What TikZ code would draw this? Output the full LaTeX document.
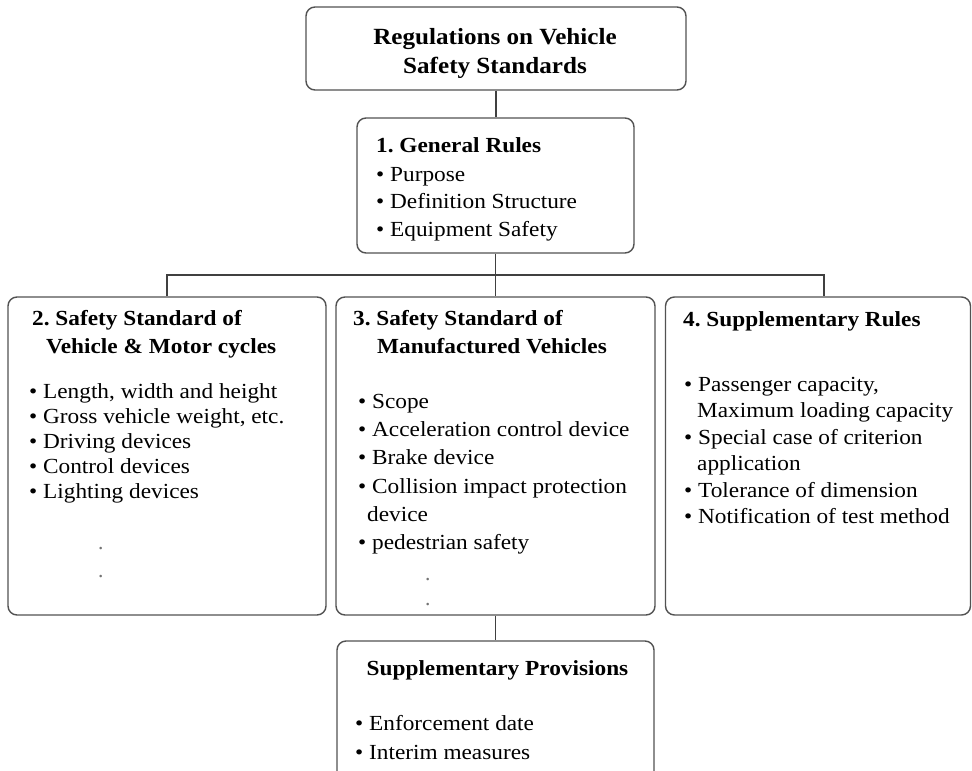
\documentclass[tikz,border=0pt]{standalone}
\usepackage{fontspec}
\setmainfont{Liberation Serif}
\newcommand\xs[1]{\scalebox{1.083}[1]{#1}}
\newcommand\bodyfont{\fontsize{21.5}{25}\selectfont\frenchspacing}
\newcommand\titlefont{\fontsize{23.2}{27}\selectfont\bfseries\frenchspacing}
\begin{document}
\frenchspacing
\begin{tikzpicture}[x=1pt,y=-1pt,
  box/.style={draw=black!68, line width=1.4pt, rounded corners=9pt, fill=none, inner sep=0pt},
  conn/.style={draw=black!75, line width=1.2pt},
  tx/.style={anchor=base west, inner sep=0pt, font=\bodyfont, text=black},
  ttl/.style={anchor=base, inner sep=0pt, font=\titlefont, text=black},
  dotx/.style={anchor=base west, inner sep=0pt, font=\bodyfont, text=black!55}]
\useasboundingbox (0,0) rectangle (972,771);
\clip (0,0) rectangle (972,771);
\fill[white] (0,0) rectangle (972,771);

% boxes
\node[box, minimum width=380pt, minimum height=83pt] (top) at (496,48.5) {};
\node[box, minimum width=277pt, minimum height=135pt] (gen) at (495.5,185.5) {};
\node[box, minimum width=318pt, minimum height=318pt] (b2) at (167,456) {};
\node[box, minimum width=319pt, minimum height=318pt] (b3) at (495.5,456) {};
\node[box, minimum width=305pt, minimum height=318pt] (b4) at (818,456) {};
\node[box, minimum width=317pt, minimum height=160pt] (sp) at (495.5,721) {};

% connectors
\coordinate (j) at (495.5,275);
\coordinate (b4top) at ([xshift=6pt]b4.north);
\draw[conn] (top.south) -- (top.south |- gen.north);
\draw[conn] (gen.south) -- (b3.north);
\draw[conn] (b2.north) |- (j) -| (b4top);
\draw[conn] (b3.south) -- (sp.north);

% title
\node[ttl] (t1) at (495,44) {\xs{Regulations on Vehicle}};
\node[ttl] (t2) at (495,73) {\xs{Safety Standards}};

% general rules
\node[tx, font=\bodyfont\bfseries] (g0) at (376,152) {\xs{1. General Rules}};
\node[tx] (g1) at (376,181) {\xs{• Purpose}};
\node[tx] (g2) at (376,208) {\xs{• Definition Structure}};
\node[tx] (g3) at (376,236) {\xs{• Equipment Safety}};

% box 2
\node[tx, font=\bodyfont\bfseries] (h2a) at (32,325) {\xs{2. Safety Standard of}};
\node[tx, font=\bodyfont\bfseries] (h2b) at (46,353) {\xs{Vehicle \& Motor cycles}};
\node[tx] (l2a) at (29,398) {\xs{• Length, width and height}};
\node[tx] (l2b) at (29,423) {\xs{• Gross vehicle weight, etc.}};
\node[tx] (l2c) at (29,448) {\xs{• Driving devices}};
\node[tx] (l2d) at (29,473) {\xs{• Control devices}};
\node[tx] (l2e) at (29,498) {\xs{• Lighting devices}};
\node[dotx] (d2a) at (98,549) {.};
\node[dotx] (d2b) at (98,577) {.};

% box 3
\node[tx, font=\bodyfont\bfseries] (h3a) at (353,325) {\xs{3. Safety Standard of}};
\node[tx, font=\bodyfont\bfseries] (h3b) at (377,353) {\xs{Manufactured Vehicles}};
\node[tx] (l3a) at (358,408) {\xs{• Scope}};
\node[tx] (l3b) at (358,436) {\xs{• Acceleration control device}};
\node[tx] (l3c) at (358,464) {\xs{• Brake device}};
\node[tx] (l3d) at (358,493) {\xs{• Collision impact protection}};
\node[tx] (l3e) at (367,521) {\xs{device}};
\node[tx] (l3f) at (358,549) {\xs{• pedestrian safety}};
\node[dotx] (d3a) at (425,580) {.};
\node[dotx] (d3b) at (425,605) {.};

% box 4
\node[tx, font=\bodyfont\bfseries] (h4) at (683,326) {\xs{4. Supplementary Rules}};
\node[tx] (l4a) at (684,391) {\xs{• Passenger capacity,}};
\node[tx] (l4b) at (697,417.5) {\xs{Maximum loading capacity}};
\node[tx] (l4c) at (684,444) {\xs{• Special case of criterion}};
\node[tx] (l4d) at (697,470.5) {\xs{application}};
\node[tx] (l4e) at (684,497) {\xs{• Tolerance of dimension}};
\node[tx] (l4f) at (684,523.5) {\xs{• Notification of test method}};

% supplementary provisions
\node[anchor=base, inner sep=0pt, font=\bodyfont\bfseries] (hs) at (497.5,675) {\xs{Supplementary Provisions}};
\node[tx] (ls1) at (355,730) {\xs{• Enforcement date}};
\node[tx] (ls2) at (355,759) {\xs{• Interim measures}};
\end{tikzpicture}
\end{document}
